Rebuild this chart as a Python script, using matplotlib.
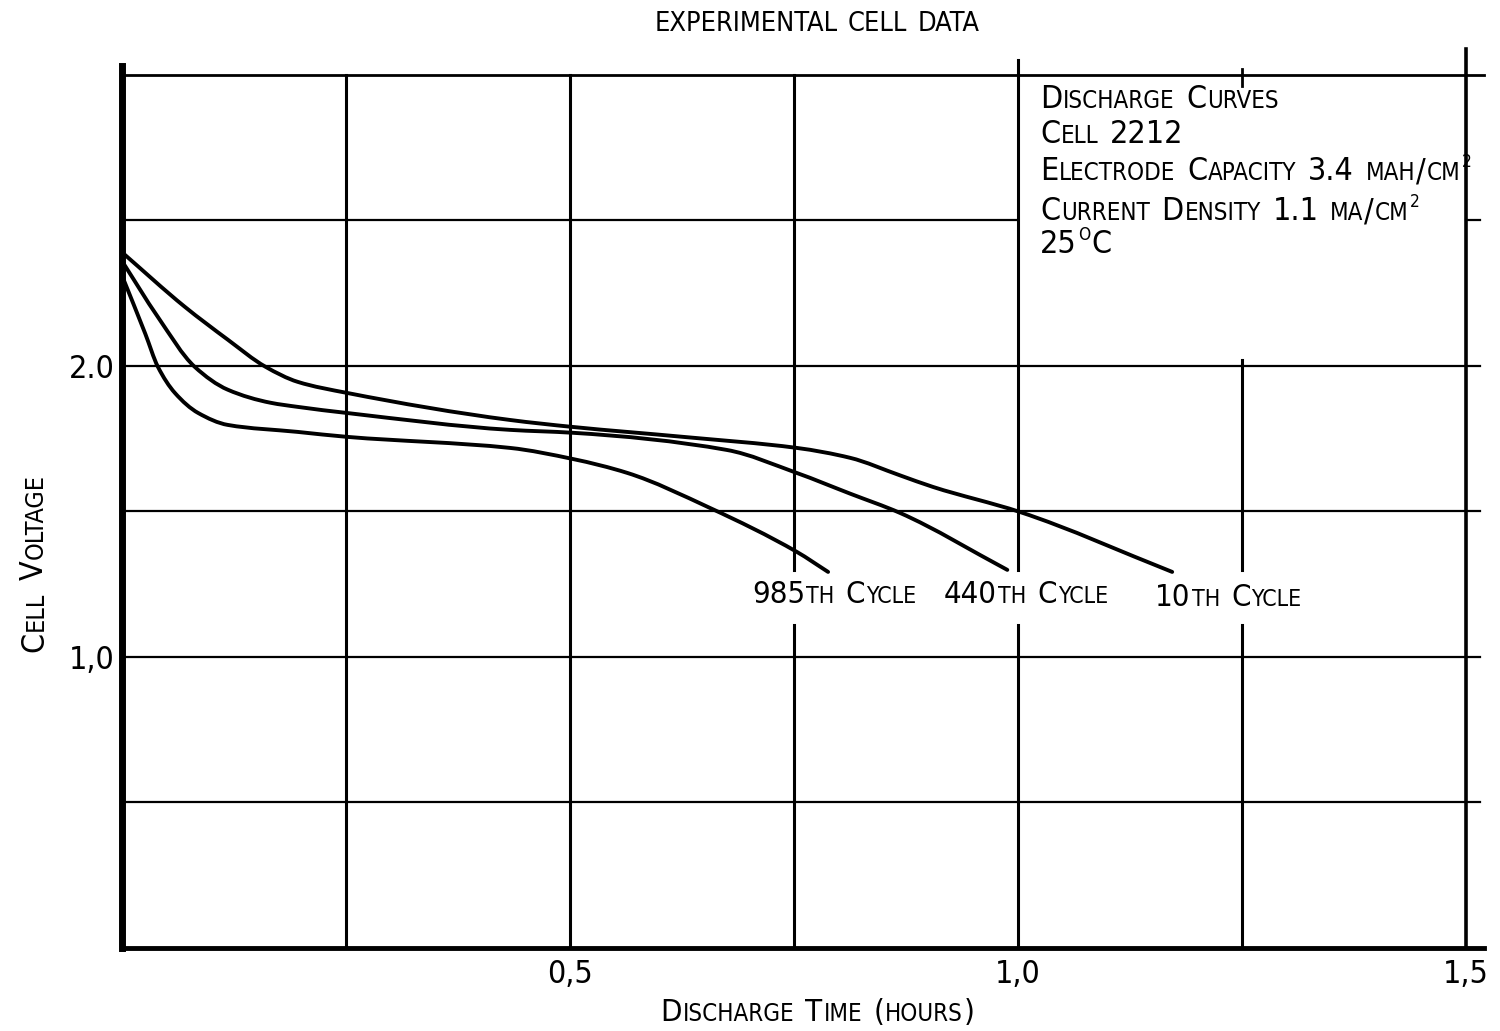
import matplotlib
matplotlib.use('Agg')
import matplotlib.pyplot as plt
from matplotlib import font_manager as fm
from matplotlib.path import Path
from matplotlib.patches import PathPatch

# discharge time (hours) and cell voltage
t_10 = [0.0, 0.07, 0.118, 0.16, 0.196, 0.251, 0.433, 0.503, 0.626, 0.753, 0.8125, 0.868, 0.905, 1.002, 1.172]
v_10 = [2.39, 2.203, 2.09, 1.997, 1.945, 1.907, 1.814, 1.79, 1.756, 1.718, 1.684, 1.624, 1.584, 1.498, 1.292]

t_440 = [0.0, 0.04, 0.081, 0.118, 0.166, 0.196, 0.251, 0.433, 0.503, 0.675, 0.753, 0.8125, 0.868, 0.988]
v_440 = [2.36, 2.168, 1.997, 1.918, 1.873, 1.859, 1.838, 1.78, 1.77, 1.711, 1.632, 1.561, 1.495, 1.299]

t_985 = [0.0, 0.026, 0.04, 0.059, 0.085, 0.118, 0.196, 0.251, 0.433, 0.503, 0.564, 0.656, 0.753, 0.788]
v_985 = [2.31, 2.11, 1.997, 1.907, 1.838, 1.797, 1.773, 1.756, 1.718, 1.68, 1.632, 1.512, 1.361, 1.292]

xtick_vals = [0.5, 1.0, 1.5]
xtick_labels = ['0,5', '1,0', '1,5']
ytick_vals = [1.0, 2.0]
ytick_labels = ['1,0', '2.0']

names = {f.name for f in fm.fontManager.ttflist}
FAM = 'Liberation Sans Narrow' if 'Liberation Sans Narrow' in names else 'DejaVu Sans'
FONT = dict(family=[FAM, 'DejaVu Sans'], stretch='condensed')

W, H = 1500, 1031
fig = plt.figure(figsize=(W / 100, H / 100), dpi=100)
ax = fig.add_axes([122 / W, 83 / H, (1484 - 122) / W, (948 - 66) / H])
ax.set_xlim(0, 1.52)
ax.set_ylim(0, 3.03)

# grid drawn by hand (parts of it are hidden behind labels on the original)
for y in [0.5, 1.0, 1.5, 2.0]:
    ax.plot([0, 1.515], [y, y], color='black', lw=1.6, zorder=1)
ax.plot([0, 1.0], [2.5, 2.5], color='black', lw=1.6, zorder=1)
ax.plot([1.5, 1.515], [2.5, 2.5], color='black', lw=1.6, zorder=1)
ax.plot([0, 1.52], [3.0, 3.0], color='black', lw=2.0, zorder=1, clip_on=False)
ax.plot([0.25, 0.25], [0, 3.0], color='black', lw=2.2, zorder=1)
ax.plot([0.5, 0.5], [0, 3.0], color='black', lw=2.2, zorder=1)
for x in [0.75, 1.0]:
    ax.plot([x, x], [0, 1.11], color='black', lw=2.2, zorder=1)
    ax.plot([x, x], [1.30, 3.0], color='black', lw=2.2, zorder=1)
ax.plot([1.0, 1.0], [3.0, 3.05], color='black', lw=2.2, zorder=1, clip_on=False)
ax.plot([1.25, 1.25], [0, 1.11], color='black', lw=2.2, zorder=1)
ax.plot([1.25, 1.25], [1.30, 2.02], color='black', lw=2.2, zorder=1)
ax.plot([1.25, 1.25], [2.96, 3.02], color='black', lw=2.0, zorder=1)
ax.plot([1.5, 1.5], [0, 3.09], color='black', lw=2.6, zorder=1, clip_on=False)


def smooth(t, v):
    # monotone cubic (Fritsch-Carlson) through the read points, as Bezier segments
    n = len(t)
    h = [t[i + 1] - t[i] for i in range(n - 1)]
    d = [(v[i + 1] - v[i]) / h[i] for i in range(n - 1)]
    m = [d[0]] + [0.0] * (n - 2) + [d[-1]]
    for i in range(1, n - 1):
        if d[i - 1] * d[i] > 0:
            w1 = 2 * h[i] + h[i - 1]
            w2 = h[i] + 2 * h[i - 1]
            m[i] = (w1 + w2) / (w1 / d[i - 1] + w2 / d[i])
    verts, codes = [(t[0], v[0])], [Path.MOVETO]
    for i in range(n - 1):
        verts += [(t[i] + h[i] / 3, v[i] + m[i] * h[i] / 3),
                  (t[i + 1] - h[i] / 3, v[i + 1] - m[i + 1] * h[i] / 3),
                  (t[i + 1], v[i + 1])]
        codes += [Path.CURVE4] * 3
    return Path(verts, codes)


for t, v in [(t_10, v_10), (t_440, v_440), (t_985, v_985)]:
    ax.add_patch(PathPatch(smooth(t, v), fill=False, edgecolor='black',
                           lw=2.8, capstyle='round', zorder=3))

for s in ['top', 'right']:
    ax.spines[s].set_visible(False)
ax.spines['left'].set_linewidth(5)
ax.spines['bottom'].set_linewidth(3.5)
ax.set_xticks(xtick_vals)
ax.set_xticklabels(xtick_labels, fontsize=23, **FONT)
ax.set_yticks(ytick_vals)
ax.set_yticklabels(ytick_labels, fontsize=23, **FONT)
ax.tick_params(axis='x', length=0, pad=8)
ax.tick_params(axis='y', length=0, pad=5)

fig.canvas.draw()
renderer = fig.canvas.get_renderer()


def smallcaps(x, y, s, big, small, rot=0):
    # lowercase letters are drawn as smaller capitals, '^' marks a superscript
    # x, y are pixel positions measured from the top-left of the picture
    px, py = x, H - y
    i = 0
    while i < len(s):
        ch = s[i]
        if ch == ' ':
            d = big * 0.33
            i += 1
        else:
            if ch == '^':
                run = s[i + 1].upper()
                i += 2
                size = small * 0.72
                lift = big * 0.4
            else:
                low = ch.islower()
                j = i
                while j < len(s) and s[j] not in ' ^' and s[j].islower() == low:
                    j += 1
                run = s[i:j].upper()
                i = j
                size = small if low else big
                lift = 0
            ox, oy = (px, py + lift) if rot == 0 else (px - lift, py)
            t = fig.text(ox, oy, run, transform=None, fontsize=size * 0.72,
                         rotation=rot, rotation_mode='anchor',
                         ha='left', va='baseline', **FONT)
            bb = t.get_window_extent(renderer)
            d = (bb.width if rot == 0 else bb.height) + 1
        if rot == 0:
            px += d
        else:
            py += d


smallcaps(655, 31, 'EXPERIMENTAL CELL DATA', 27, 27)
smallcaps(1040, 108, 'Discharge Curves', 32, 24)
smallcaps(1040, 143, 'Cell 2212', 32, 24)
smallcaps(1040, 180, 'Electrode Capacity 3.4 mah/cm^2', 32, 24)
smallcaps(1040, 220, 'Current Density 1.1 ma/cm^2', 32, 24)
smallcaps(1040, 253, '25^oC', 32, 24)

smallcaps(752, 603, '985th Cycle', 31, 23)
smallcaps(944, 603, '440th Cycle', 31, 23)
smallcaps(1155, 606, '10th Cycle', 31, 23)

smallcaps(660, 1021, 'Discharge Time (hours)', 31, 24)
smallcaps(43, 652, 'Cell Voltage', 32, 25, rot=90)

fig.savefig('out.png', dpi=100)
